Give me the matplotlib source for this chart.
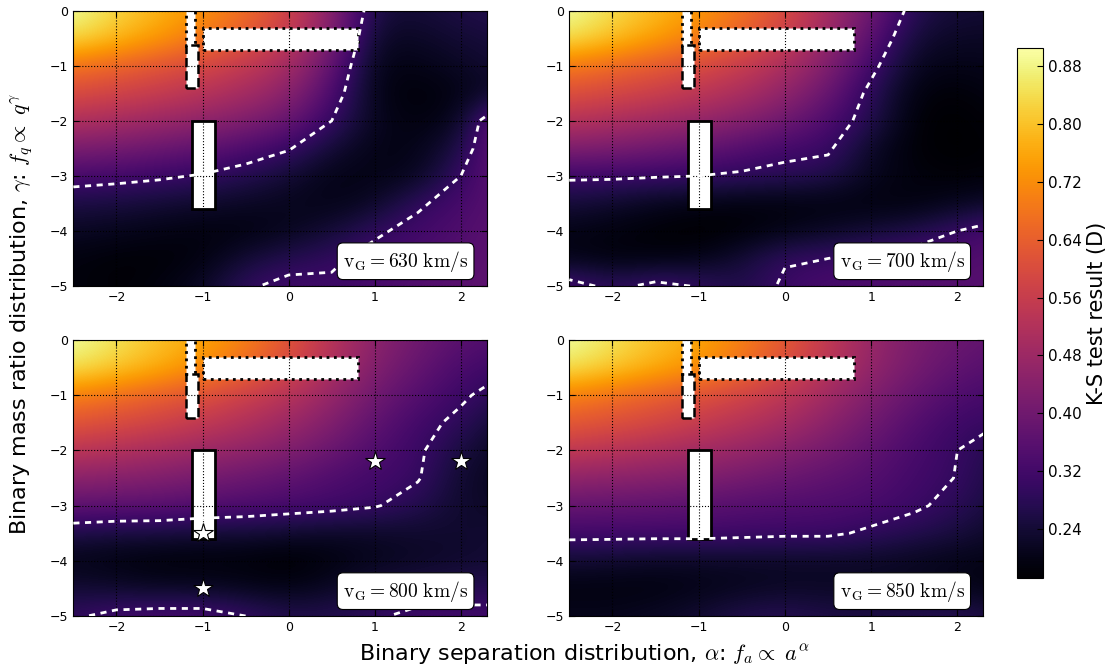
import matplotlib
matplotlib.use("Agg")
import matplotlib.pyplot as plt
from matplotlib.patches import Rectangle
import numpy as np

plt.rcParams["mathtext.fontset"] = "cm"
plt.rcParams["xtick.direction"] = "in"
plt.rcParams["ytick.direction"] = "in"
plt.rcParams["xtick.top"] = True
plt.rcParams["ytick.right"] = True

# ── Data: K-S D on the (alpha, gamma) grid ───────────────────────────────────
ALPHA = [-2.5, -2.0, -1.5, -1.0, -0.5, 0.0, 0.5, 1.0, 1.5, 2.0, 2.5]
GAMMA = [0.0, -0.5, -1.0, -1.5, -2.0, -2.5, -3.0, -3.5, -4.0, -4.5, -5.0]  # rows, top to bottom

D_630 = np.array([
    [0.90, 0.83, 0.78, 0.73, 0.67, 0.58, 0.45, 0.25, 0.24, 0.26, 0.27],
    [0.84, 0.79, 0.74, 0.69, 0.63, 0.55, 0.43, 0.22, 0.22, 0.24, 0.25],
    [0.68, 0.65, 0.62, 0.59, 0.55, 0.50, 0.38, 0.20, 0.20, 0.22, 0.24],
    [0.60, 0.58, 0.56, 0.53, 0.50, 0.45, 0.34, 0.20, 0.18, 0.20, 0.23],
    [0.52, 0.50, 0.48, 0.46, 0.43, 0.39, 0.30, 0.21, 0.19, 0.21, 0.42],
    [0.42, 0.41, 0.39, 0.37, 0.34, 0.305, 0.24, 0.20, 0.20, 0.26, 0.40],
    [0.33, 0.32, 0.31, 0.295, 0.27, 0.24, 0.20, 0.20, 0.21, 0.30, 0.38],
    [0.255, 0.25, 0.24, 0.23, 0.22, 0.21, 0.20, 0.22, 0.29, 0.33, 0.36],
    [0.22, 0.21, 0.20, 0.19, 0.19, 0.21, 0.24, 0.29, 0.32, 0.34, 0.37],
    [0.19, 0.18, 0.18, 0.19, 0.24, 0.27, 0.29, 0.32, 0.33, 0.35, 0.37],
    [0.19, 0.18, 0.19, 0.22, 0.29, 0.32, 0.31, 0.33, 0.35, 0.36, 0.37],
])

D_700 = np.array([
    [0.90, 0.84, 0.79, 0.74, 0.68, 0.60, 0.50, 0.40, 0.27, 0.24, 0.24],
    [0.85, 0.80, 0.75, 0.70, 0.64, 0.57, 0.47, 0.36, 0.24, 0.22, 0.22],
    [0.69, 0.66, 0.63, 0.60, 0.56, 0.51, 0.43, 0.32, 0.21, 0.20, 0.21],
    [0.61, 0.59, 0.57, 0.54, 0.51, 0.46, 0.39, 0.28, 0.19, 0.18, 0.20],
    [0.53, 0.51, 0.49, 0.47, 0.44, 0.40, 0.34, 0.27, 0.18, 0.17, 0.19],
    [0.43, 0.42, 0.40, 0.38, 0.35, 0.32, 0.31, 0.22, 0.18, 0.17, 0.18],
    [0.31, 0.31, 0.305, 0.30, 0.29, 0.28, 0.268, 0.21, 0.19, 0.18, 0.19],
    [0.247, 0.23, 0.21, 0.20, 0.19, 0.19, 0.19, 0.19, 0.19, 0.21, 0.23],
    [0.20, 0.19, 0.18, 0.17, 0.18, 0.20, 0.22, 0.24, 0.26, 0.30, 0.34],
    [0.20, 0.19, 0.19, 0.20, 0.24, 0.295, 0.30, 0.32, 0.33, 0.34, 0.35],
    [0.33, 0.28, 0.32, 0.295, 0.26, 0.31, 0.33, 0.34, 0.35, 0.35, 0.36],
])

D_800 = np.array([
    [0.90, 0.85, 0.80, 0.76, 0.70, 0.62, 0.53, 0.45, 0.40, 0.36, 0.34],
    [0.85, 0.81, 0.77, 0.72, 0.66, 0.59, 0.51, 0.43, 0.38, 0.33, 0.31],
    [0.70, 0.67, 0.64, 0.61, 0.57, 0.53, 0.47, 0.40, 0.35, 0.31, 0.27],
    [0.62, 0.60, 0.58, 0.55, 0.52, 0.48, 0.43, 0.37, 0.32, 0.285, 0.23],
    [0.54, 0.52, 0.50, 0.48, 0.46, 0.43, 0.39, 0.34, 0.31, 0.25, 0.21],
    [0.45, 0.44, 0.43, 0.41, 0.39, 0.37, 0.34, 0.32, 0.305, 0.23, 0.21],
    [0.37, 0.365, 0.36, 0.35, 0.34, 0.33, 0.32, 0.305, 0.27, 0.23, 0.22],
    [0.26, 0.25, 0.25, 0.24, 0.24, 0.23, 0.22, 0.22, 0.23, 0.23, 0.24],
    [0.20, 0.19, 0.18, 0.18, 0.18, 0.17, 0.19, 0.21, 0.22, 0.23, 0.24],
    [0.24, 0.23, 0.22, 0.22, 0.21, 0.20, 0.22, 0.25, 0.26, 0.27, 0.27],
    [0.29, 0.32, 0.33, 0.33, 0.30, 0.27, 0.27, 0.29, 0.32, 0.32, 0.32],
])

D_850 = np.array([
    [0.90, 0.85, 0.80, 0.76, 0.70, 0.63, 0.55, 0.47, 0.42, 0.39, 0.37],
    [0.85, 0.81, 0.77, 0.73, 0.67, 0.60, 0.53, 0.46, 0.41, 0.37, 0.35],
    [0.70, 0.67, 0.64, 0.61, 0.58, 0.54, 0.49, 0.43, 0.38, 0.34, 0.32],
    [0.63, 0.61, 0.59, 0.56, 0.53, 0.50, 0.45, 0.40, 0.35, 0.31, 0.30],
    [0.55, 0.53, 0.51, 0.49, 0.47, 0.44, 0.41, 0.37, 0.33, 0.30, 0.26],
    [0.46, 0.45, 0.44, 0.43, 0.41, 0.39, 0.37, 0.35, 0.32, 0.298, 0.25],
    [0.38, 0.375, 0.37, 0.36, 0.35, 0.345, 0.34, 0.33, 0.31, 0.28, 0.24],
    [0.32, 0.32, 0.32, 0.32, 0.315, 0.31, 0.31, 0.29, 0.27, 0.25, 0.22],
    [0.237, 0.23, 0.22, 0.22, 0.22, 0.22, 0.22, 0.22, 0.21, 0.20, 0.20],
    [0.19, 0.19, 0.19, 0.20, 0.21, 0.22, 0.22, 0.22, 0.22, 0.21, 0.19],
    [0.21, 0.21, 0.22, 0.24, 0.27, 0.28, 0.26, 0.26, 0.27, 0.28, 0.25],
])

VELOCITIES = ["630", "700", "800", "850"]
D_LEVEL = 0.30

# observed systems (800 km/s panel)
STAR_ALPHA = [-1.0, -1.0, 1.0, 2.0]
STAR_GAMMA = [-3.5, -4.5, -2.2, -2.2]

# observational constraint boxes: (alpha0, alpha1, gamma0, gamma1, linestyle)
BOXES = [
    (-1.19, -1.09, -0.70, 0.05, ":"),
    (-1.19, -1.05, -1.41, -0.62, "--"),
    (-1.00, 0.80, -0.71, -0.31, ":"),
    (-1.12, -0.86, -3.61, -2.00, "-"),
]

VMIN, VMAX = 0.172, 0.905
CB_TICKS = [0.24, 0.32, 0.40, 0.48, 0.56, 0.64, 0.72, 0.80, 0.88]

# ── Layout ────────────────────────────────────────────────────────────────────
POS = [
    [0.0659, 0.5731, 0.3714, 0.4109],
    [0.5115, 0.5731, 0.3720, 0.4109],
    [0.0659, 0.0806, 0.3714, 0.4119],
    [0.5115, 0.0806, 0.3720, 0.4119],
]

fig = plt.figure(figsize=(11.13, 6.70), dpi=100)

half = 0.25
extent = [ALPHA[0] - half, ALPHA[-1] + half, GAMMA[-1] - half, GAMMA[0] + half]

for pos, vel, D in zip(POS, VELOCITIES, [D_630, D_700, D_800, D_850]):
    ax = fig.add_axes(pos)
    im = ax.imshow(D, extent=extent, origin="upper", cmap="inferno",
                   vmin=VMIN, vmax=VMAX, interpolation="bicubic",
                   aspect="auto", zorder=0)
    ax.contour(ALPHA, GAMMA[::-1], D[::-1], levels=[D_LEVEL], colors="white",
               linewidths=2.0, linestyles=[(0, (2.2, 2.0))], zorder=3)

    for a0, a1, g0, g1, ls in BOXES:
        ax.add_patch(Rectangle((a0, g0), a1 - a0, g1 - g0, facecolor="white",
                               edgecolor="black", linestyle=ls,
                               linewidth=2.0 if ls != "--" else 1.8, zorder=2))

    if vel == "800":
        ax.plot(STAR_ALPHA, STAR_GAMMA, linestyle="none", marker="*",
                markersize=15, markerfacecolor="white", markeredgecolor="black",
                markeredgewidth=0.8, zorder=5)

    ax.text(0.955, 0.09, r"$\mathrm{v_G = %s\ km/s}$" % vel,
            transform=ax.transAxes, ha="right", va="center", fontsize=14,
            zorder=6,
            bbox=dict(boxstyle="round,pad=0.3", facecolor="white",
                      edgecolor="black", linewidth=0.8))

    ax.set_xlim(-2.5, 2.3)
    ax.set_ylim(-5, 0)
    ax.set_xticks([-2, -1, 0, 1, 2])
    ax.set_yticks([0, -1, -2, -3, -4, -5])
    ax.tick_params(labelsize=9, length=4, width=0.8)
    ax.grid(True, color="black", linestyle=":", linewidth=0.8)
    ax.set_axisbelow(False)
    for ln in ax.get_xgridlines() + ax.get_ygridlines():
        ln.set_zorder(4)

cax = fig.add_axes([0.9135, 0.1373, 0.0236, 0.7906])
cb = fig.colorbar(im, cax=cax, ticks=CB_TICKS, format="%.2f")
cb.ax.tick_params(labelsize=11, length=4, direction="in")
cb.set_label("K-S test result (D)", fontsize=15)

fig.text(0.019, 0.532, r"Binary mass ratio distribution, $\gamma$: $f_q \propto\ q^\gamma$",
         rotation=90, ha="center", va="center", fontsize=16)
fig.text(0.525, 0.022, r"Binary separation distribution, $\alpha$: $f_a \propto\ a^\alpha$",
         ha="center", va="center", fontsize=16)

fig.savefig("out.png", dpi=100)
